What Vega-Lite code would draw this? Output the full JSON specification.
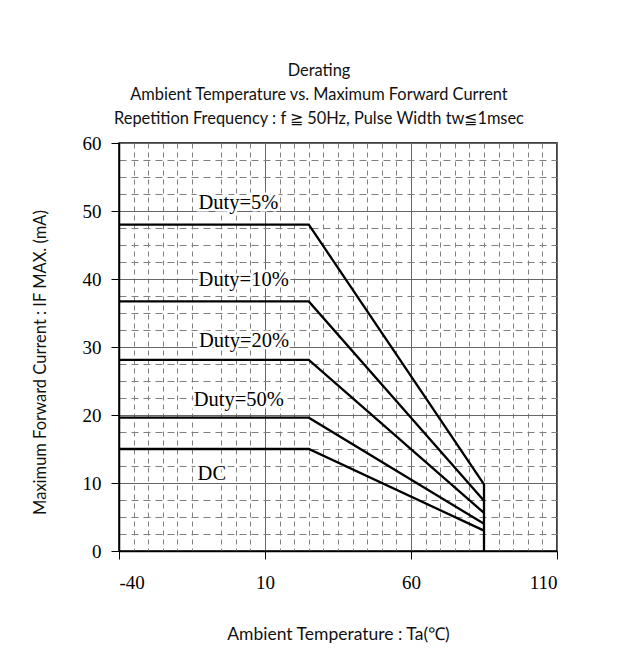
{
  "$schema": "https://vega.github.io/schema/vega-lite/v6.json",
  "autosize": {"type": "none"},
  "padding": {"left": 119, "top": 143, "right": 82, "bottom": 117},
  "width": 438,
  "height": 408,
  "background": "white",
  "config": {
    "view": {"stroke": "black", "strokeWidth": 1.5},
    "font": "Lato"
  },
  "title": {
    "text": ["Derating", "Ambient Temperature vs. Maximum Forward Current", "Repetition Frequency : f \u2267 50Hz, Pulse Width tw\u22661msec"],
    "font": "Lato",
    "fontSize": 16.4,
    "fontWeight": "normal",
    "color": "#111",
    "lineHeight": 24,
    "offset": 7,
    "dx": -19,
    "anchor": "middle"
  },
  "datasets": {
    "curves": [
      {"series": "5%", "i": 1, "temp": -40, "current": 48},
      {"series": "5%", "i": 2, "temp": 25, "current": 48},
      {"series": "5%", "i": 3, "temp": 85, "current": 9.8},
      {"series": "5%", "i": 4, "temp": 85, "current": 0},
      {"series": "10%", "i": 1, "temp": -40, "current": 36.7},
      {"series": "10%", "i": 2, "temp": 25, "current": 36.7},
      {"series": "10%", "i": 3, "temp": 85, "current": 7.4},
      {"series": "20%", "i": 1, "temp": -40, "current": 28.1},
      {"series": "20%", "i": 2, "temp": 25, "current": 28.1},
      {"series": "20%", "i": 3, "temp": 85, "current": 5.6},
      {"series": "50%", "i": 1, "temp": -40, "current": 19.6},
      {"series": "50%", "i": 2, "temp": 25, "current": 19.6},
      {"series": "50%", "i": 3, "temp": 85, "current": 4.0},
      {"series": "DC", "i": 1, "temp": -40, "current": 15},
      {"series": "DC", "i": 2, "temp": 25, "current": 15},
      {"series": "DC", "i": 3, "temp": 85, "current": 3.0}
    ],
    "labels": [
      {"label": "Duty=5%", "temp": 0.9, "current": 51.2},
      {"label": "Duty=10%", "temp": 2.7, "current": 39.8},
      {"label": "Duty=20%", "temp": 2.8, "current": 30.9},
      {"label": "Duty=50%", "temp": 1.0, "current": 22.2},
      {"label": "DC", "temp": -8.2, "current": 11.3}
    ]
  },
  "layer": [
    {
      "data": {"name": "curves"},
      "mark": {"type": "line", "strokeOpacity": 0},
      "encoding": {
        "x": {"field": "temp", "type": "quantitative", "scale": {"domain": [-40, 110], "nice": false},
          "axis": {"orient": "bottom", "values": [-35,-30,-25,-20,-15,-5,0,5,15,20,25,30,35,40,45,50,55,65,70,75,80,85,90,95,100,105],
            "grid": true, "gridDash": [5, 4], "gridColor": "#808080", "gridWidth": 1, "gridOpacity": 1,
            "ticks": false, "labels": false, "domain": false, "title": null}},
        "y": {"field": "current", "type": "quantitative", "scale": {"domain": [0, 60], "nice": false},
          "axis": {"orient": "left", "values": [2.5,5,7.5,12.5,15,17.5,22.5,25,27.5,32.5,35,37.5,42.5,45,47.5,52.5,55,57.5],
            "grid": true, "gridDash": [7, 5], "gridColor": "#808080", "gridWidth": 1, "gridOpacity": 1,
            "ticks": false, "labels": false, "domain": false, "title": null}},
        "detail": {"field": "series"}
      }
    },
    {
      "data": {"name": "curves"},
      "mark": {"type": "line", "strokeOpacity": 0},
      "encoding": {
        "x": {"field": "temp", "type": "quantitative", "scale": {"domain": [-40, 110], "nice": false},
          "axis": {"orient": "bottom", "values": [-40, 10, 60, 110], "labelExpr": "'' + datum.value",
            "grid": true, "gridColor": "#666666", "gridWidth": 1, "gridOpacity": 1,
            "ticks": true, "tickSize": 8, "tickColor": "black", "tickWidth": 1,
            "domain": true, "domainColor": "black", "domainWidth": 1.5,
            "labelFont": "Liberation Serif", "labelFontSize": 19, "labelColor": "black", "labelPadding": 14,
            "title": "Ambient Temperature : Ta(\u2103)", "titleFont": "Lato", "titleFontSize": 17.5,
            "titleFontWeight": "normal", "titleColor": "#111", "titleX": 219, "titleY": 83, "titleBaseline": "middle"}},
        "y": {"field": "current", "type": "quantitative", "scale": {"domain": [0, 60], "nice": false},
          "axis": {"orient": "left", "values": [0, 10, 20, 30, 40, 50, 60],
            "grid": true, "gridColor": "#666666", "gridWidth": 1, "gridOpacity": 1,
            "ticks": true, "tickSize": 8, "tickColor": "black", "tickWidth": 1,
            "domain": true, "domainColor": "black", "domainWidth": 1.5,
            "labelFont": "Liberation Serif", "labelFontSize": 19, "labelColor": "black", "labelPadding": 10,
            "title": "Maximum Forward Current : IF MAX. (mA)", "titleFont": "Lato", "titleFontSize": 16.5,
            "titleFontWeight": "normal", "titleColor": "#111", "titleX": -79, "titleY": 219, "titleBaseline": "middle", "titleAngle": -90}},
        "detail": {"field": "series"}
      }
    },
    {
      "data": {"name": "curves"},
      "mark": {"type": "line", "color": "black", "strokeWidth": 2.3},
      "encoding": {
        "x": {"field": "temp", "type": "quantitative", "axis": null},
        "y": {"field": "current", "type": "quantitative", "axis": null},
        "detail": {"field": "series"},
        "order": {"field": "i"}
      }
    },
    {
      "data": {"name": "labels"},
      "mark": {"type": "text", "font": "Liberation Serif", "fontSize": 20.5, "color": "white", "stroke": "white", "strokeWidth": 5, "strokeJoin": "miter"},
      "encoding": {
        "x": {"field": "temp", "type": "quantitative", "axis": null},
        "y": {"field": "current", "type": "quantitative", "axis": null},
        "text": {"field": "label"}
      }
    },
    {
      "data": {"name": "labels"},
      "mark": {"type": "text", "font": "Liberation Serif", "fontSize": 20.5, "color": "black"},
      "encoding": {
        "x": {"field": "temp", "type": "quantitative", "axis": null},
        "y": {"field": "current", "type": "quantitative", "axis": null},
        "text": {"field": "label"}
      }
    }
  ],
  "resolve": {"axis": {"x": "independent", "y": "independent"}}
}
